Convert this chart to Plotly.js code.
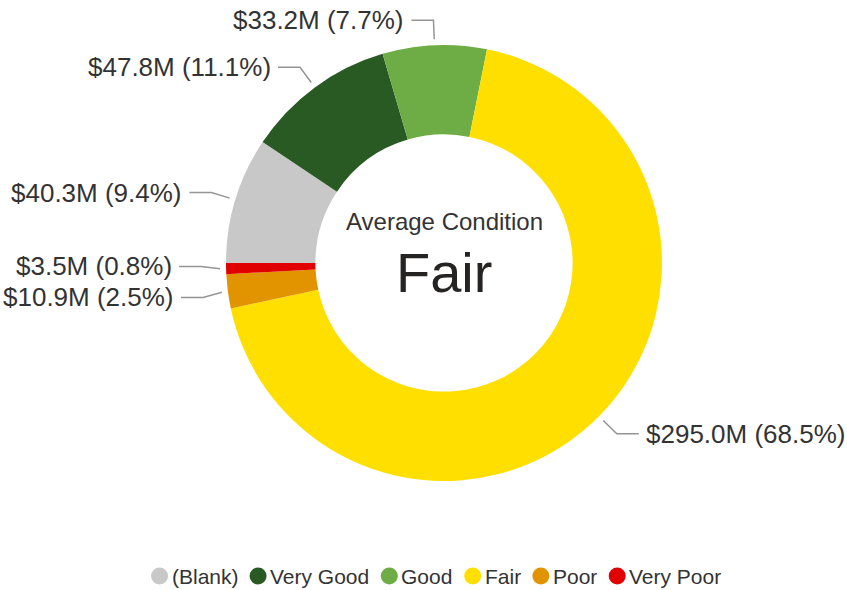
<!DOCTYPE html>
<html>
<head>
<meta charset="utf-8">
<script src="https://cdn.plot.ly/plotly-3.0.1.min.js"></script>
<style>html,body{margin:0;padding:0;background:#fff;}#chart{width:847px;height:590px;}</style>
</head>
<body>
<div id="chart"></div>
<script>
// ---- data ----
var categories = ["(Blank)", "Very Good", "Good", "Fair", "Poor", "Very Poor"];
var valuesM = [40.3, 47.8, 33.2, 295.0, 10.9, 3.5];
var percentLabels = ["9.4%", "11.1%", "7.7%", "68.5%", "2.5%", "0.8%"];
var colors = ["#C8C8C8", "#2A5A24", "#6EAC46", "#FFDF00", "#E29400", "#E00000"];
var centerTitle = "Average Condition";
var centerValue = "Fair";

// ---- layout constants (pixels) ----
var W = 847, H = 590;
var CX = 444, CY = 263, R = 218;
var ROT = -90;
var FONT = "'Liberation Sans', Arial, sans-serif";
var LABEL_FS = 26, MIN_SEP = 31;
var LEG_Y = 576, LEG_CX = 440.5, LEG_FS = 21, LEG_D = 17;

function px(x) { return x / W; }
function py(y) { return 1 - y / H; }

var total = valuesM.reduce(function (a, b) { return a + b; }, 0);
var texts = valuesM.map(function (v, i) { return "$" + v.toFixed(1) + "M (" + percentLabels[i] + ")"; });

// leader-line geometry from slice mid-angles
var items = [];
var cum = 0;
valuesM.forEach(function (v, i) {
  var mid = (ROT + 360 * (cum + v / 2) / total) * Math.PI / 180;
  cum += v;
  var dx = Math.sin(mid), dy = -Math.cos(mid);
  var side = dx >= 0 ? 1 : -1;
  items.push({
    i: i, side: side,
    x0: CX + (R + 6) * dx, y0: CY + (R + 6) * dy,
    x1: CX + (R + 25) * dx, y1: CY + (R + 25) * dy
  });
});

// keep labels on the same side from colliding (spread them apart symmetrically)
[-1, 1].forEach(function (s) {
  var grp = items.filter(function (it) { return it.side === s; }).sort(function (a, b) { return a.y1 - b.y1; });
  for (var k = 1; k < grp.length; k++) {
    var gap = grp[k].y1 - grp[k - 1].y1;
    if (gap < MIN_SEP) {
      var d = (MIN_SEP - gap) / 2;
      grp[k - 1].y1 -= d; grp[k].y1 += d;
    }
  }
});

var shapes = [], annotations = [];
items.forEach(function (it) {
  var x2 = it.x1 + it.side * 22, y2 = it.y1;
  shapes.push({
    type: "path", xref: "paper", yref: "paper",
    path: "M " + px(it.x0) + "," + py(it.y0) + " L " + px(it.x1) + "," + py(it.y1) + " L " + px(x2) + "," + py(y2),
    line: { color: "#959595", width: 1.5 }
  });
  annotations.push({
    xref: "paper", yref: "paper", x: px(x2 + it.side * 6), y: py(y2),
    xanchor: it.side > 0 ? "left" : "right", yanchor: "middle",
    text: texts[it.i], showarrow: false, borderpad: 0,
    font: { family: FONT, size: LABEL_FS, color: "#333333" }
  });
});

annotations.push({
  xref: "paper", yref: "paper", x: px(CX), y: py(221), xanchor: "center", yanchor: "middle",
  text: centerTitle, showarrow: false, borderpad: 0, font: { family: FONT, size: 24, color: "#333333" }
});
annotations.push({
  xref: "paper", yref: "paper", x: px(CX), y: py(272), xanchor: "center", yanchor: "middle",
  text: centerValue, showarrow: false, borderpad: 0, font: { family: FONT, size: 56, color: "#252423" }
});

// ---- legend (circle symbols, compact spacing) ----
var ctx = document.createElement("canvas").getContext("2d");
ctx.font = LEG_FS + "px 'Liberation Sans', Arial, sans-serif";
var widths = categories.map(function (c) { return ctx.measureText(c).width; });
var GAP_TXT = 12, GAP_ITEM = 20;
var legTotal = LEG_D / 2;
widths.forEach(function (w, i) { legTotal += GAP_TXT + w + (i < widths.length - 1 ? GAP_ITEM : 0); });
legTotal += LEG_D / 2;
var cx = LEG_CX - legTotal / 2 + LEG_D / 2;
categories.forEach(function (c, i) {
  shapes.push({
    type: "circle", xref: "paper", yref: "paper",
    x0: px(cx - LEG_D / 2), x1: px(cx + LEG_D / 2), y0: py(LEG_Y + LEG_D / 2), y1: py(LEG_Y - LEG_D / 2),
    fillcolor: colors[i], line: { width: 0 }
  });
  annotations.push({
    xref: "paper", yref: "paper", x: px(cx + GAP_TXT - 1), y: py(LEG_Y), xanchor: "left", yanchor: "middle",
    text: c, showarrow: false, borderpad: 0, font: { family: FONT, size: LEG_FS, color: "#333333" }
  });
  cx += GAP_TXT + widths[i] + GAP_ITEM;
});

var traces = [{
  type: "pie",
  labels: categories,
  values: valuesM,
  sort: false,
  direction: "clockwise",
  rotation: ROT,
  hole: 0.59,
  textinfo: "none",
  hoverinfo: "label+value+percent",
  marker: { colors: colors, line: { width: 0 } },
  domain: { x: [px(CX - R), px(CX + R)], y: [py(CY + R), py(CY - R)] },
  showlegend: false
}];

var layout = {
  width: W, height: H,
  margin: { l: 0, r: 0, t: 0, b: 0, autoexpand: false },
  paper_bgcolor: "#ffffff", plot_bgcolor: "#ffffff",
  showlegend: false,
  shapes: shapes,
  annotations: annotations
};

Plotly.newPlot("chart", traces, layout, { displayModeBar: false, staticPlot: true });
</script>
</body>
</html>
